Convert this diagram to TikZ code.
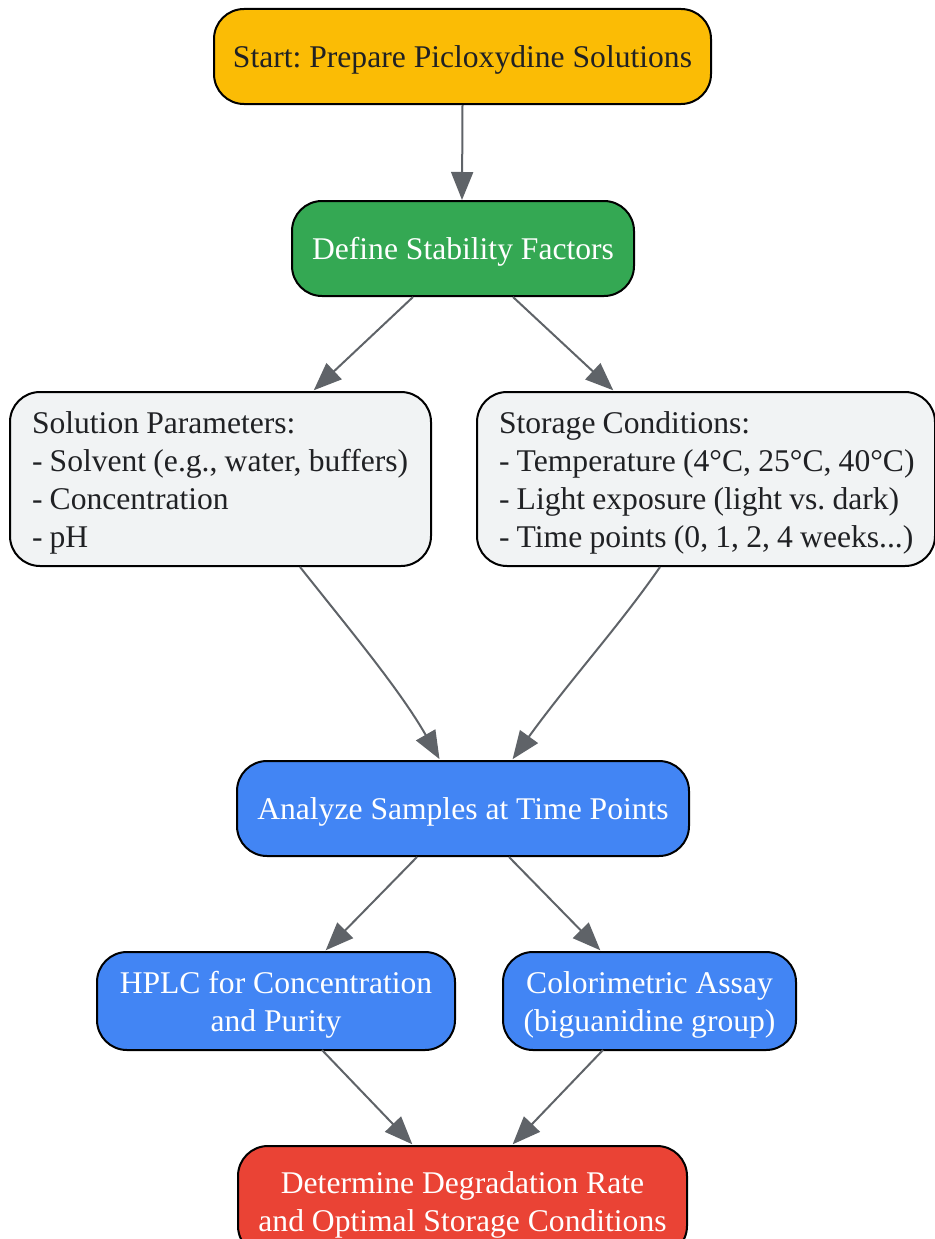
\documentclass[tikz,border=0pt]{standalone}
\usepackage{fontspec}
\setmainfont{Liberation Serif}
\usetikzlibrary{arrows.meta}
\definecolor{cyellow}{HTML}{FBBC05}
\definecolor{cgreen}{HTML}{34A853}
\definecolor{cgray}{HTML}{F1F3F4}
\definecolor{cblue}{HTML}{4285F4}
\definecolor{cred}{HTML}{EA4335}
\definecolor{cedge}{HTML}{5F6368}
\definecolor{ctext}{HTML}{202124}
\newcommand\tb[1]{\rule{0pt}{30pt}#1\rule[-8pt]{0pt}{8pt}}
\newcommand\tightsp{\spaceskip=0.228em\relax}
\tikzset{
  box/.style={draw=black, line width=2pt, rounded corners=30pt, inner sep=0pt,
    font=\fontsize{31.6}{38}\selectfont\frenchspacing, align=center},
  lbox/.style={box, fill=cgray, text=ctext, align=left, inner xsep=22pt},
  conn/.style={draw=cedge, line width=2pt, -{Triangle[length=28pt,width=22pt]}, shorten >=1pt}
}
\begin{document}
\begin{tikzpicture}[x=1pt,y=-1pt]
\useasboundingbox (0,0) rectangle (934,1239);
\node[box, fill=cyellow, text=ctext, minimum width=497pt, minimum height=95pt] (start) at (462.5,56.5) {\tb{Start: Prepare Picloxydine Solutions}};
\node[box, fill=cgreen, text=white, minimum width=342pt, minimum height=95pt] (define) at (463,248.5) {\tb{Define Stability Factors}};
\node[lbox, text width=377pt, minimum height=174pt] (sol) at (220.5,479) {\tightsp\tb{\mbox{Solution Parameters:}\\\mbox{- Solvent (e.g., water, buffers)}\\\mbox{- Concentration}\\\mbox{- pH}}};
\node[lbox, text width=414pt, minimum height=174pt] (stor) at (706,479) {\tightsp\tb{\mbox{Storage Conditions:}\\\mbox{- Temperature (4°C, 25°C, 40°C)}\\\mbox{- Light exposure (light vs. dark)}\\\mbox{- Time points (0, 1, 2, 4 weeks...)}}};
\node[box, fill=cblue, text=white, minimum width=452pt, minimum height=95pt] (analyze) at (463,808.5) {\tb{Analyze Samples at Time Points}};
\node[box, fill=cblue, text=white, minimum width=358pt, minimum height=98pt] (hplc) at (276,1001) {\tb{HPLC for Concentration\\and Purity}};
\node[box, fill=cblue, text=white, minimum width=293pt, minimum height=98pt] (color) at (649.5,1001) {\tb{Colorimetric Assay\\(biguanidine group)}};
\node[box, fill=cred, text=white, minimum width=449pt, minimum height=110pt] (det) at (462.5,1201) {\tb{Determine Degradation Rate\\and Optimal Storage Conditions}};
\coordinate (a1) at (462,201);
\draw[conn] (start.south) -- (a1);
\coordinate (d1) at (413,297);
\coordinate (d2) at (313,391);
\draw[conn] (d1) -- (d2);
\coordinate (d3) at (513,297);
\coordinate (d4) at (614,391);
\draw[conn] (d3) -- (d4);
\coordinate (s1) at (300,567);
\coordinate (s2) at (440,760);
\draw[conn] (s1) .. controls (350,630) and (400,690) .. (s2);
\coordinate (t1) at (660,567);
\coordinate (t2) at (512,760);
\draw[conn] (t1) .. controls (620,625) and (570,680) .. (t2);
\coordinate (n1) at (417,857);
\coordinate (n2) at (325,951);
\draw[conn] (n1) -- (n2);
\coordinate (n3) at (509,857);
\coordinate (n4) at (601,951);
\draw[conn] (n3) -- (n4);
\coordinate (h1) at (322,1050);
\coordinate (h2) at (413,1145);
\draw[conn] (h1) -- (h2);
\coordinate (c1) at (603,1050);
\coordinate (c2) at (512,1145);
\draw[conn] (c1) -- (c2);
\end{tikzpicture}
\end{document}
